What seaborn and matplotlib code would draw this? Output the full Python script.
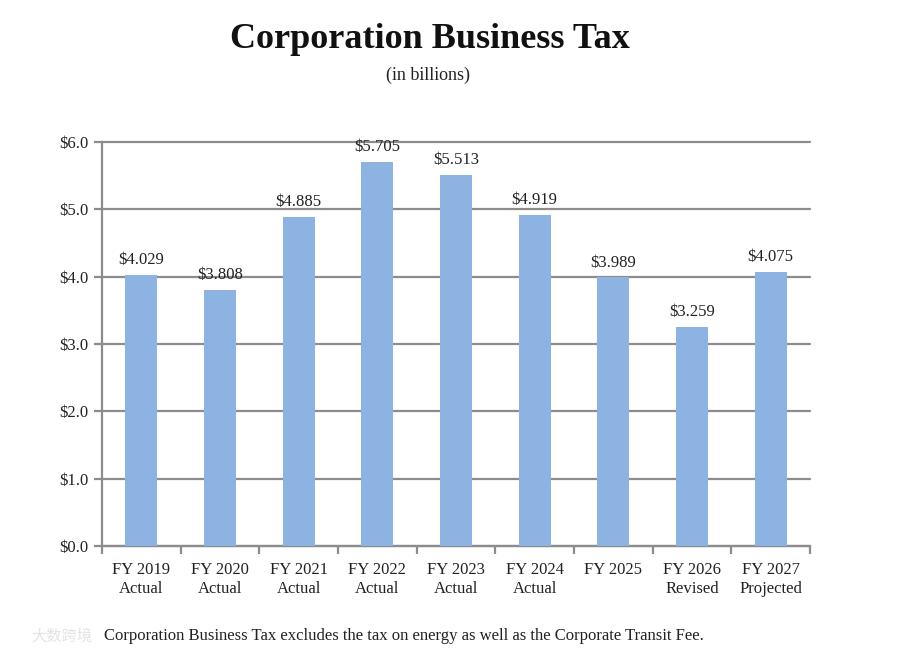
import pandas as pd
import matplotlib
matplotlib.use("Agg")
import matplotlib.pyplot as plt
import seaborn as sns
from matplotlib.ticker import FuncFormatter, FixedLocator

# data (billions)
years = ['FY 2019', 'FY 2020', 'FY 2021', 'FY 2022', 'FY 2023',
         'FY 2024', 'FY 2025', 'FY 2026', 'FY 2027']
status = ['Actual', 'Actual', 'Actual', 'Actual', 'Actual',
          'Actual', '', 'Revised', 'Projected']
values = [4.029, 3.808, 4.885, 5.705, 5.513, 4.919, 3.989, 3.259, 4.075]

labels = [f'{y}\n{s}' for y, s in zip(years, status)]
df = pd.DataFrame({'label': labels, 'value': values})

sns.set_style("white")
plt.rcParams['font.family'] = ['Liberation Serif', 'DejaVu Serif']

fig = plt.figure(figsize=(9, 6.58), dpi=100)
ax = fig.add_axes([0.1133, 0.1702, 0.7867, 0.614])

sns.barplot(data=df, x='label', y='value', color='#8DB3E2', saturation=1,
            width=0.41, linewidth=0, edgecolor='none', ax=ax, zorder=3)

ax.set_ylim(0, 6)
ax.set_xlim(-0.5, len(values) - 0.5)
ax.set_yticks([0, 1, 2, 3, 4, 5, 6])
ax.yaxis.set_major_formatter(FuncFormatter(lambda v, p: f'${v:.1f}'))
ax.yaxis.grid(True, color='#8c8c8c', linewidth=1.6, zorder=0)
ax.set_axisbelow(True)
for gl in ax.get_ygridlines():
    gl.set_clip_on(False)
ax.set_xlabel('')
ax.set_ylabel('')

# value labels
for i, v in enumerate(values):
    ax.text(i, v + 0.1, f'${v:.3f}', ha='center', va='bottom',
            fontsize=12, color='#222222')

# spines / ticks
for s in ['top', 'right']:
    ax.spines[s].set_visible(False)
for s in ['left', 'bottom']:
    ax.spines[s].set_color('#8c8c8c')
    ax.spines[s].set_linewidth(1.6)

ax.tick_params(axis='y', left=True, length=6, width=1.6, color='#8c8c8c',
               labelsize=12, labelcolor='#222222', pad=4)
ax.tick_params(axis='x', which='major', bottom=False, labelsize=12,
               labelcolor='#222222', pad=8)
ax.xaxis.set_minor_locator(FixedLocator([i - 0.5 for i in range(len(values) + 1)]))
ax.tick_params(axis='x', which='minor', bottom=True, length=6, width=1.6,
               color='#8c8c8c')
for t in ax.get_xticklabels():
    t.set_linespacing(1.25)

# titles and note
fig.text(0.478, 0.94, 'Corporation Business Tax', ha='center', va='center',
         fontsize=26, fontweight='bold', color='#111111')
fig.text(0.476, 0.886, '(in billions)', ha='center', va='center',
         fontsize=13, color='#222222')
fig.text(0.115, 0.033, 'Corporation Business Tax excludes the tax on energy as well as the Corporate Transit Fee.',
         ha='left', va='center', fontsize=12, color='#222222')

# faint watermark in the lower left
fig.text(0.035, 0.033, '大数跨境', ha='left', va='center', fontsize=11,
         color='#dddddd', family=['Noto Sans CJK SC', 'DejaVu Sans'], alpha=0.8)

fig.savefig('out.png', dpi=100)
